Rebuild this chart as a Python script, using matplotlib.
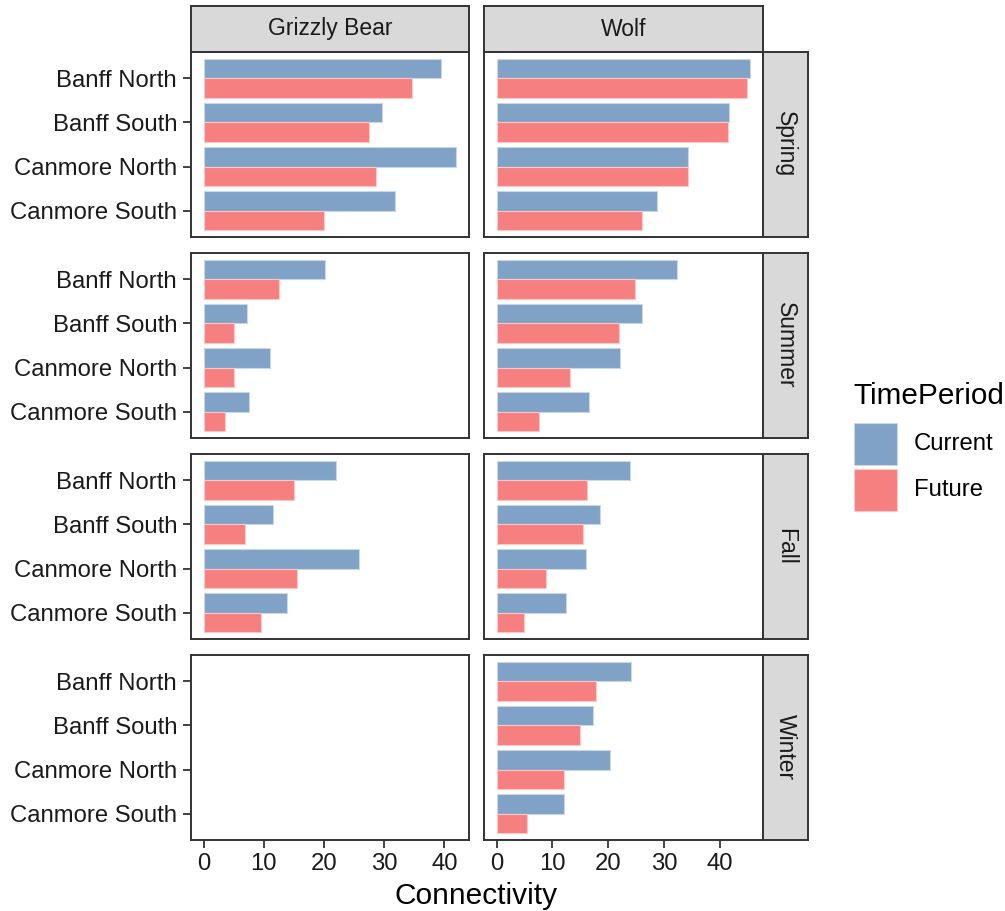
import numpy as np
import matplotlib
matplotlib.use("Agg")
import matplotlib.pyplot as plt
from matplotlib.patches import Rectangle

plt.rcParams["font.family"] = ["Liberation Sans", "DejaVu Sans"]

# ---- data -----------------------------------------------------------------
SITES = ["Banff North", "Banff South", "Canmore North", "Canmore South"]
SPECIES = ["Grizzly Bear", "Wolf"]
SEASONS = ["Spring", "Summer", "Fall", "Winter"]
PERIODS = ["Current", "Future"]

# connectivity[species][season] = (current per site, future per site); None = no data
grizzly_spring = ([39.5, 29.7, 42.0, 31.8], [34.7, 27.4, 28.7, 20.0])
grizzly_summer = ([20.2, 7.2, 11.1, 7.6], [12.6, 5.0, 5.0, 3.5])
grizzly_fall = ([22.0, 11.6, 25.9, 13.8], [15.0, 6.8, 15.5, 9.6])
grizzly_winter = None

wolf_spring = ([45.5, 41.7, 34.4, 28.7], [44.9, 41.5, 34.4, 26.1])
wolf_summer = ([32.4, 26.0, 22.1, 16.6], [24.9, 21.9, 13.1, 7.6])
wolf_fall = ([24.0, 18.5, 16.0, 12.4], [16.2, 15.5, 8.9, 4.9])
wolf_winter = ([24.1, 17.2, 20.4, 12.1], [17.9, 14.9, 12.1, 5.4])

connectivity = {
    "Grizzly Bear": [grizzly_spring, grizzly_summer, grizzly_fall, grizzly_winter],
    "Wolf": [wolf_spring, wolf_summer, wolf_fall, wolf_winter],
}

COLORS = {"Current": "#7fa2c6", "Future": "#f67f7f"}
EDGES = {"Current": "#c9d8e8", "Future": "#fcc8c8"}
BORDER = "#333333"
STRIP_FILL = "#d9d9d9"
TXT = "#1a1a1a"
TICK_FS = 17.2

# ---- layout (pixels) ------------------------------------------------------
W, H = 1005, 911
fig = plt.figure(figsize=(W / 100, H / 100), dpi=100)


def box(x0, y0, x1, y1):
    return [x0 / W, 1 - y1 / H, (x1 - x0) / W, (y1 - y0) / H]


COL_X = [(191, 469), (484, 763)]
ROW_Y = [(52, 237), (253, 438), (454, 639), (655, 840)]
STRIP_TOP = (6, 52)
STRIP_RIGHT = (763, 808)


def col_limits(sp):
    vals = [v for d in connectivity[sp] if d is not None for part in d for v in part]
    m = max(vals)
    return -0.05 * m, 1.05 * m


pos = np.arange(len(SITES), 0, -1)  # Banff North on top
bw = 0.45

for c, sp in enumerate(SPECIES):
    xlo, xhi = col_limits(sp)
    for r, season in enumerate(SEASONS):
        ax = fig.add_axes(box(COL_X[c][0], ROW_Y[r][0], COL_X[c][1], ROW_Y[r][1]))
        d = connectivity[sp][r]
        if d is not None:
            cur, fut = d
            ax.barh(pos + bw / 2, cur, height=bw, color=COLORS["Current"],
                    edgecolor=EDGES["Current"], linewidth=0.8)
            ax.barh(pos - bw / 2, fut, height=bw, color=COLORS["Future"],
                    edgecolor=EDGES["Future"], linewidth=0.8)
        ax.set_xlim(xlo, xhi)
        ax.set_ylim(0.4, 4.6)
        ax.set_yticks(pos)
        if c == 0:
            ax.set_yticklabels(SITES, fontsize=TICK_FS, color=TXT)
        else:
            ax.set_yticklabels([])
            ax.tick_params(axis="y", length=0)
        ax.set_xticks([0, 10, 20, 30, 40])
        if r == len(SEASONS) - 1:
            ax.set_xticklabels(["0", "10", "20", "30", "40"], fontsize=TICK_FS, color=TXT)
        else:
            ax.set_xticklabels([])
            ax.tick_params(axis="x", length=0)
        ax.tick_params(axis="both", width=1.3, color=BORDER, pad=4)
        if c == 0:
            ax.tick_params(axis="y", length=6)
        if r == len(SEASONS) - 1:
            ax.tick_params(axis="x", length=6, pad=3)
        for s in ax.spines.values():
            s.set_color(BORDER)
            s.set_linewidth(1.4)

        # right strip with season name
        if c == len(SPECIES) - 1:
            sax = fig.add_axes(box(STRIP_RIGHT[0], ROW_Y[r][0], STRIP_RIGHT[1], ROW_Y[r][1]))
            sax.set_facecolor(STRIP_FILL)
            sax.set_xticks([]); sax.set_yticks([])
            for s in sax.spines.values():
                s.set_color(BORDER); s.set_linewidth(1.4)
            sax.text(0.5, 0.5, season, rotation=-90, ha="center", va="center",
                     fontsize=16.5, color=TXT, transform=sax.transAxes)

    # top strip with species name
    tax = fig.add_axes(box(COL_X[c][0], STRIP_TOP[0], COL_X[c][1], STRIP_TOP[1]))
    tax.set_facecolor(STRIP_FILL)
    tax.set_xticks([]); tax.set_yticks([])
    for s in tax.spines.values():
        s.set_color(BORDER); s.set_linewidth(1.4)
    tax.text(0.5, 0.5, sp, ha="center", va="center", fontsize=16.5, color=TXT,
             transform=tax.transAxes)

fig.text(476 / W, 1 - 896 / H, "Connectivity", ha="center", va="center",
         fontsize=21.5, color="black")

# legend
fig.text(853 / W, 1 - 396 / H, "TimePeriod", ha="left", va="center",
         fontsize=21.4, color="black")
key_y = [(423, 465), (469, 511)]
for (y0, y1), p in zip(key_y, PERIODS):
    fig.patches.append(Rectangle((854 / W, 1 - y1 / H), 43 / W, (y1 - y0) / H,
                                 transform=fig.transFigure, facecolor=COLORS[p],
                                 edgecolor=EDGES[p], linewidth=0.8))
    fig.text(914 / W, 1 - (y0 + y1) / 2 / H, p, ha="left", va="center",
             fontsize=TICK_FS, color="black")

fig.savefig("out.png", dpi=100, facecolor="white")
